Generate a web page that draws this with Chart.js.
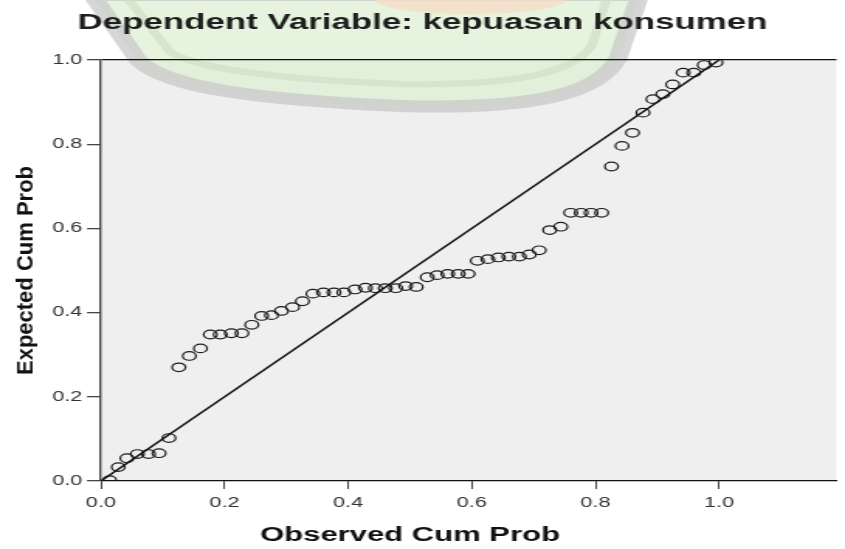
<!DOCTYPE html>
<html>
<head>
<meta charset="utf-8">
<script src="https://cdn.jsdelivr.net/npm/chart.js@4.4.1/dist/chart.umd.min.js"></script>
<style>
  body { margin: 0; background: #fff; overflow: hidden; }
</style>
</head>
<body>
<canvas id="pp" width="545" height="549" style="display:block;width:845px;height:549px"></canvas>
<script>
// Normal P-P plot of regression standardized residual
const observedCumProb = [
  0.014, 0.028, 0.042, 0.059, 0.077, 0.094, 0.110, 0.126, 0.143, 0.161,
  0.177, 0.193, 0.211, 0.228, 0.244, 0.260, 0.276, 0.292, 0.310, 0.326,
  0.343, 0.360, 0.377, 0.393, 0.411, 0.428, 0.444, 0.460, 0.477, 0.493,
  0.510, 0.528, 0.544, 0.561, 0.578, 0.594, 0.609, 0.626, 0.643, 0.660,
  0.677, 0.693, 0.709, 0.726, 0.744, 0.760, 0.777, 0.793, 0.810, 0.826,
  0.843, 0.860, 0.877, 0.893, 0.909, 0.925, 0.942, 0.959, 0.976, 0.995
];
const expectedCumProb = [
  0.002, 0.033, 0.054, 0.064, 0.064, 0.066, 0.102, 0.270, 0.297, 0.315,
  0.348, 0.348, 0.351, 0.351, 0.371, 0.392, 0.394, 0.404, 0.413, 0.427,
  0.445, 0.448, 0.448, 0.448, 0.455, 0.459, 0.458, 0.458, 0.458, 0.463,
  0.461, 0.484, 0.489, 0.492, 0.492, 0.492, 0.523, 0.527, 0.531, 0.533,
  0.533, 0.538, 0.548, 0.596, 0.604, 0.637, 0.637, 0.637, 0.637, 0.747,
  0.796, 0.827, 0.875, 0.907, 0.919, 0.942, 0.970, 0.970, 0.988, 0.994
];
const diagonalX = [0, 1];
const diagonalY = [0, 1];
const tickLabels = ['0.0', '0.2', '0.4', '0.6', '0.8', '1.0'];

const titleText = 'Dependent Variable: kepuasan konsumen';
const xTitle = 'Observed Cum Prob';
const yTitle = 'Expected Cum Prob';

// the picture is stretched sideways, so the canvas is too
const S = 845 / 545;
const FONT = '"Liberation Sans", Arial, sans-serif';

function drawWatermark(ctx) {
  const X = v => v / S;
  ctx.save();
  ctx.globalAlpha = 0.75;
  ctx.beginPath();
  ctx.moveTo(X(92), -5);
  ctx.lineTo(X(138), 60);
  ctx.bezierCurveTo(X(165), 88, X(260), 100, X(400), 106);
  ctx.bezierCurveTo(X(540), 110, X(600), 92, X(618), 58);
  ctx.lineTo(X(640), -5);
  ctx.closePath();
  ctx.fillStyle = '#dcefd4';
  ctx.fill();
  ctx.lineWidth = 12;
  ctx.strokeStyle = '#c8c8c8';
  ctx.stroke();
  // inner band
  ctx.beginPath();
  ctx.moveTo(X(125), -5);
  ctx.lineTo(X(170), 52);
  ctx.bezierCurveTo(X(200), 70, X(290), 80, X(400), 84);
  ctx.bezierCurveTo(X(520), 86, X(575), 72, X(592), 45);
  ctx.lineTo(X(608), -5);
  ctx.lineWidth = 6;
  ctx.strokeStyle = '#cfe0c8';
  ctx.stroke();
  // orange top
  ctx.beginPath();
  ctx.ellipse(X(470), 0, X(95), 14, 0, 0, Math.PI * 2);
  ctx.fillStyle = '#f7dcc4';
  ctx.fill();
  ctx.restore();
}

const framePlugin = {
  id: 'frame',
  beforeDraw(chart) {
    const { ctx, chartArea: a, width, height } = chart;
    ctx.save();
    ctx.fillStyle = '#fff';
    ctx.fillRect(0, 0, width, height);
    ctx.fillStyle = '#efefef';
    ctx.fillRect(a.left, a.top, a.right - a.left, a.bottom - a.top);
    drawWatermark(ctx);
    ctx.restore();
  },
  afterDraw(chart) {
    const { ctx, scales } = chart;
    ctx.save();
    ctx.fillStyle = '#111';
    ctx.textAlign = 'center';
    ctx.textBaseline = 'middle';
    ctx.font = 'bold 20px ' + FONT;
    ctx.fillText(xTitle, scales.x.getPixelForValue(0.5), 535);
    // y title is not stretched in the picture
    ctx.translate(26 / S, (scales.y.top + scales.y.bottom) / 2);
    ctx.scale(1 / S, 1);
    ctx.rotate(-Math.PI / 2);
    ctx.font = 'bold 22px ' + FONT;
    ctx.fillText(yTitle, 0, 0);
    ctx.restore();
  }
};

const points = observedCumProb.map((x, i) => ({ x: x, y: expectedCumProb[i] }));
const diagonal = diagonalX.map((x, i) => ({ x: x, y: diagonalY[i] }));

new Chart(document.getElementById('pp'), {
  type: 'scatter',
  data: {
    datasets: [
      {
        label: 'Observed',
        data: points,
        pointRadius: 4.3,
        pointBorderWidth: 1.2,
        pointBorderColor: '#1c1c1c',
        pointBackgroundColor: 'rgba(0,0,0,0)',
        order: 2
      },
      {
        type: 'line',
        label: 'Reference',
        data: diagonal,
        showLine: true,
        borderColor: '#111',
        borderWidth: 1.5,
        pointRadius: 0,
        order: 1
      }
    ]
  },
  options: {
    responsive: false,
    animation: false,
    events: [],
    layout: { padding: 0 },
    plugins: {
      legend: { display: false },
      tooltip: { enabled: false },
      title: {
        display: true,
        text: titleText,
        color: '#1e1e1e',
        font: { family: FONT, size: 22.5, weight: 'bold', lineHeight: 1.2 },
        padding: { top: 9.5, bottom: 23.5 }
      }
    },
    scales: {
      x: {
        type: 'linear',
        min: 0,
        max: 1.19,
        afterBuildTicks: s => { s.ticks = s.ticks.filter(t => t.value <= 1.0001); },
        afterFit: s => { s.height = 68; },
        ticks: {
          stepSize: 0.2,
          color: '#333',
          padding: 6,
          maxRotation: 0,
          font: { family: FONT, size: 14 },
          callback: (v, i) => tickLabels[i]
        },
        grid: { drawOnChartArea: false, tickLength: 8, tickColor: '#444', lineWidth: 1 },
        border: { color: '#111', width: 1.2 }
      },
      y: {
        type: 'linear',
        min: 0,
        max: 1,
        afterFit: s => { s.width = 65.1; },
        ticks: {
          stepSize: 0.2,
          color: '#333',
          padding: 3,
          font: { family: FONT, size: 14 },
          callback: (v, i) => tickLabels[i]
        },
        grid: {
          color: c => (c.tick && c.tick.value === 1 ? '#111' : 'rgba(0,0,0,0)'),
          lineWidth: 1.3,
          tickLength: 9,
          tickColor: '#444'
        },
        border: { color: '#444', width: 1.4 }
      }
    }
  },
  plugins: [framePlugin]
});
</script>
</body>
</html>
